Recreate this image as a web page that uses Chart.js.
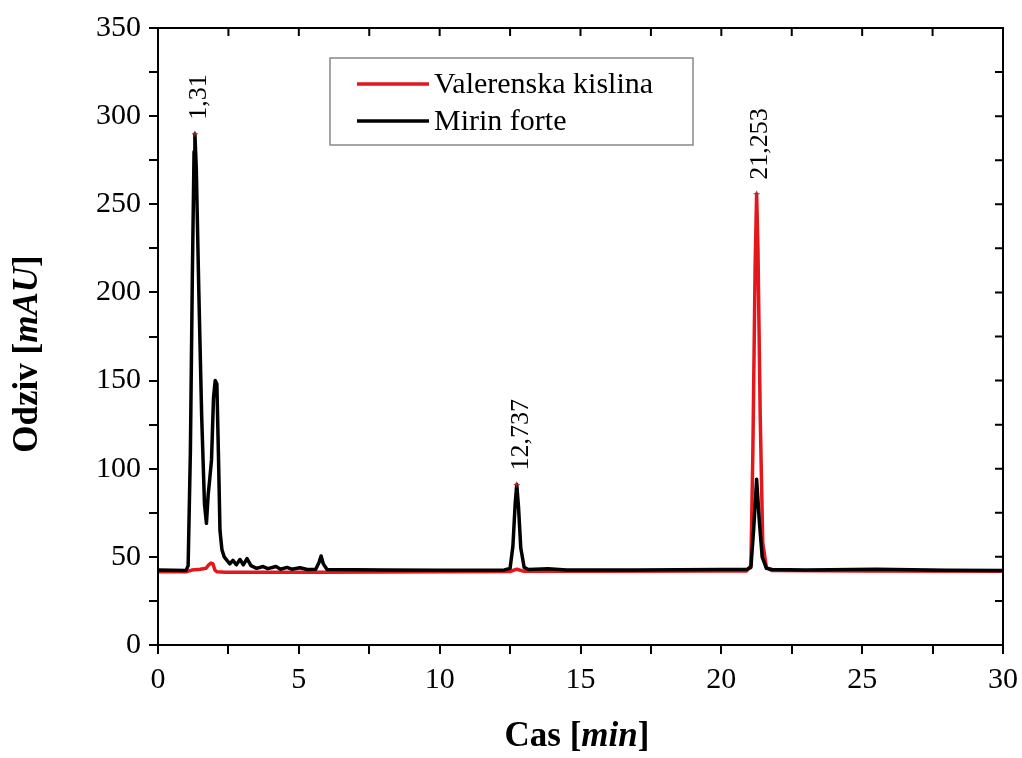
<!DOCTYPE html>
<html>
<head>
<meta charset="utf-8">
<script src="https://cdn.jsdelivr.net/npm/chart.js@4/dist/chart.umd.min.js"></script>
<style>
  body { margin: 0; background: #fff; }
  #wrap { width: 1022px; height: 758px; }
</style>
</head>
<body>
<div id="wrap"><canvas id="chrom" width="1022" height="758"></canvas></div>
<script>
// Mirin forte (black trace)
const blackTime = [0, 1.0, 1.07, 1.15, 1.22, 1.28, 1.31, 1.36, 1.45, 1.55, 1.65, 1.72, 1.78, 1.83, 1.9, 1.97, 2.03, 2.09, 2.15, 2.2, 2.27, 2.35, 2.45, 2.55, 2.66, 2.78, 2.91, 3.03, 3.16, 3.3, 3.5, 3.73, 3.9, 4.19, 4.35, 4.58, 4.75, 5.04, 5.3, 5.6, 5.72, 5.79, 5.87, 6.0, 8, 10, 12.3, 12.5, 12.6, 12.68, 12.737, 12.8, 12.88, 13.0, 13.15, 13.85, 14.5, 17, 20, 20.9, 21.05, 21.15, 21.253, 21.35, 21.45, 21.6, 21.8, 23, 25.5, 28, 30]
const blackSignal = [42.5, 42.3, 45, 110, 210, 280, 290, 270, 200, 130, 80, 69, 85, 93, 105, 140, 150, 148, 105, 65, 54, 50, 48, 46, 48, 45.5, 48.5, 45.5, 49, 45, 43.5, 44.5, 43.3, 44.5, 43, 44, 43, 43.8, 42.8, 43, 47, 50.5, 46, 42.8, 42.5, 42.4, 42.6, 43.5, 56, 80, 91, 78, 55, 44, 42.8, 43.2, 42.6, 42.6, 42.8, 42.8, 44, 66, 94, 70, 50, 43.5, 42.8, 42.6, 43, 42.4, 42.2]

// Valerenska kislina (red trace)
const redTime = [0, 1.0, 1.2, 1.5, 1.7, 1.8, 1.88, 1.95, 2.02, 2.1, 2.4, 3, 6, 10, 12.5, 12.74, 13.0, 15, 20, 20.9, 21.05, 21.12, 21.2, 21.253, 21.3, 21.38, 21.47, 21.6, 21.8, 25, 30]
const redSignal = [41.5, 41.5, 42.5, 43, 43.5, 45.5, 46.5, 46, 42.5, 41.5, 41.3, 41.2, 41.3, 41.5, 41.7, 43, 41.8, 41.8, 42, 42, 45, 110, 215, 256, 225, 130, 58, 44, 42.2, 42, 41.8]

// peak annotations
const peakTimes = [1.31, 12.737, 21.253]
const peakHeights = [290, 91, 256]
const peakLabels = ["1,31", "12,737", "21,253"]

const serif = "'Liberation Serif', 'Times New Roman', serif"

const toPoints = (xs, ys) => xs.map((x, i) => ({ x: x, y: ys[i] }))

// Frame, mirrored ticks, peak labels, legend and axis titles
const decorPlugin = {
   id: "decor",
   afterDraw(chart) {
      const ctx = chart.ctx
      const area = chart.chartArea
      const xs = chart.scales.x
      const ys = chart.scales.y
      ctx.save()

      // box frame
      ctx.strokeStyle = "#000"
      ctx.lineWidth = 2
      ctx.strokeRect(area.left, area.top, area.right - area.left, area.bottom - area.top)

      // inward ticks on top and right
      ctx.beginPath()
      xs.ticks.forEach(t => {
         const px = xs.getPixelForValue(t.value)
         ctx.moveTo(px, area.top)
         ctx.lineTo(px, area.top + 8)
      })
      ys.ticks.forEach(t => {
         const py = ys.getPixelForValue(t.value)
         ctx.moveTo(area.right, py)
         ctx.lineTo(area.right - 8, py)
      })
      ctx.stroke()

      // peak labels
      ctx.fillStyle = "#000"
      ctx.font = "26px " + serif
      ctx.textAlign = "left"
      ctx.textBaseline = "middle"
      peakTimes.forEach((t, i) => {
         const px = xs.getPixelForValue(t)
         const py = ys.getPixelForValue(peakHeights[i])
         ctx.save()
         ctx.translate(px + 4, py - 14)
         ctx.rotate(-Math.PI / 2)
         ctx.fillText(peakLabels[i], 0, 0)
         ctx.restore()
         // small marker at peak top
         ctx.beginPath()
         ctx.lineWidth = 1
         ctx.strokeStyle = "#a33"
         ctx.moveTo(px - 3, py); ctx.lineTo(px + 3, py)
         ctx.moveTo(px, py - 3); ctx.lineTo(px, py + 3)
         ctx.stroke()
      })

      // legend
      ctx.lineWidth = 1.5
      ctx.strokeStyle = "#888"
      ctx.strokeRect(330, 58, 363, 87)
      ctx.font = "30px " + serif
      ctx.textBaseline = "middle"
      const legendItems = [chart.data.datasets[1], chart.data.datasets[0]]
      legendItems.forEach((ds, i) => {
         const ly = 84 + i * 37
         ctx.beginPath()
         ctx.strokeStyle = ds.borderColor
         ctx.lineWidth = 3.5
         ctx.moveTo(357, ly)
         ctx.lineTo(429, ly)
         ctx.stroke()
         ctx.fillStyle = "#000"
         ctx.fillText(ds.label, 434, ly + 1)
      })

      // axis titles with italic units
      const drawMixed = (parts, cx, cy) => {
         let total = 0
         parts.forEach(p => { ctx.font = p.font; total += ctx.measureText(p.text).width })
         let x = cx - total / 2
         parts.forEach(p => {
            ctx.font = p.font
            ctx.fillText(p.text, x, cy)
            x += ctx.measureText(p.text).width
         })
      }
      const bold = "bold 35px " + serif
      const boldIt = "italic bold 35px " + serif
      ctx.fillStyle = "#000"
      ctx.textAlign = "left"
      ctx.textBaseline = "middle"
      drawMixed([{ text: "Cas [", font: bold }, { text: "min", font: boldIt }, { text: "]", font: bold }], 577, 737)
      ctx.save()
      ctx.translate(28, 354)
      ctx.rotate(-Math.PI / 2)
      drawMixed([{ text: "Odziv [", font: bold }, { text: "mAU", font: boldIt }, { text: "]", font: bold }], 0, 0)
      ctx.restore()

      ctx.restore()
   },
}

const chromChart = new Chart(document.getElementById("chrom").getContext("2d"), {
   type: "line",
   data: {
      datasets: [
         {
            label: "Mirin forte",
            data: toPoints(blackTime, blackSignal),
            borderColor: "#000000",
            borderWidth: 3.5,
            order: 0,
         },
         {
            label: "Valerenska kislina",
            data: toPoints(redTime, redSignal),
            borderColor: "#e3171c",
            borderWidth: 3.5,
            order: 1,
         },
      ],
   },
   options: {
      responsive: false,
      animation: false,
      events: [],
      layout: { autoPadding: false, padding: { top: 28, right: 19, left: 0, bottom: 0 } },
      elements: {
         point: { radius: 0 },
         line: { tension: 0, borderJoinStyle: "round" },
      },
      plugins: {
         legend: { display: false },
         tooltip: { enabled: false },
      },
      scales: {
         x: {
            type: "linear",
            min: 0,
            max: 30,
            afterFit: scale => {
               scale.height = 113
               scale.paddingLeft = 0
               scale.paddingRight = 0
            },
            border: { color: "#000", width: 2 },
            grid: { drawOnChartArea: false, tickLength: 9, color: "#000", lineWidth: 2 },
            ticks: {
               stepSize: 2.5,
               autoSkip: false,
               maxRotation: 0,
               padding: 8,
               color: "#000",
               font: { family: serif, size: 30 },
               callback: v => (v % 5 === 0 ? v : ""),
            },
         },
         y: {
            min: 0,
            max: 350,
            afterFit: scale => {
               scale.width = 158
               scale.paddingTop = 0
               scale.paddingBottom = 0
            },
            border: { color: "#000", width: 2 },
            grid: { drawOnChartArea: false, tickLength: 9, color: "#000", lineWidth: 2 },
            ticks: {
               stepSize: 25,
               autoSkip: false,
               padding: 8,
               color: "#000",
               font: { family: serif, size: 30 },
               callback: v => (v % 50 === 0 ? v : ""),
            },
         },
      },
   },
   plugins: [decorPlugin],
})
</script>
</body>
</html>
